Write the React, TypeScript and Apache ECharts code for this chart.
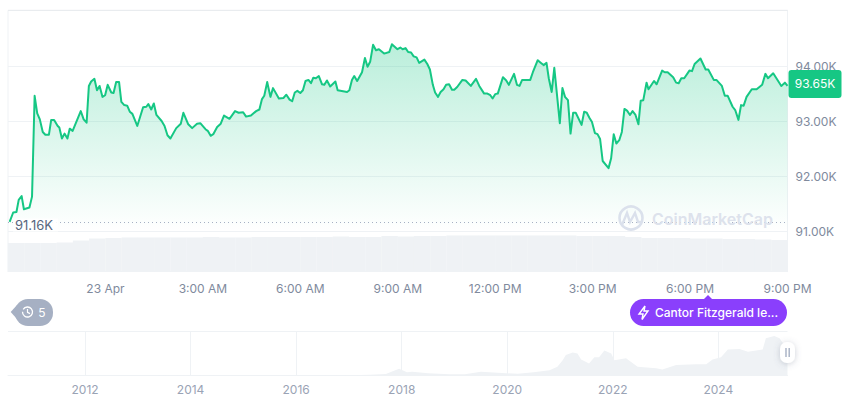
import React, { useEffect, useRef } from "react";
import * as echarts from "echarts";

const FONT = "Inter, 'Noto Sans', sans-serif";
const UP = "#16c784";

const priceHours = [-2.95,-2.84,-2.74,-2.67,-2.58,-2.51,-2.34,-2.26,-2.18,-2.10,-2.02,-1.93,-1.85,-1.74,-1.67,-1.58,-1.47,-1.42,-1.34,-1.26,-1.17,-1.10,-1.01,-.76,-.67,-.58,-.51,-.44,-.34,-.26,-.18,-.09,-.01,.07,.18,.25,.33,.42,.49,.58,.67,.75,.83,.98,1.16,1.26,1.32,1.41,1.49,1.57,1.73,1.82,1.91,2.00,2.18,2.32,2.40,2.55,2.67,2.82,2.92,3.08,3.15,3.24,3.32,3.44,3.55,3.65,3.82,3.99,4.10,4.24,4.33,4.48,4.64,4.74,4.82,4.89,4.98,5.08,5.16,5.34,5.48,5.57,5.67,5.75,5.83,5.91,6.00,6.08,6.16,6.25,6.33,6.40,6.48,6.57,6.67,6.74,6.82,6.92,7.08,7.15,7.44,7.51,7.59,7.66,7.75,7.90,7.99,8.07,8.15,8.24,8.33,8.42,8.58,8.74,8.82,8.99,9.08,9.15,9.24,9.32,9.41,9.49,9.58,9.66,9.82,9.91,9.99,10.08,10.15,10.24,10.32,10.41,10.49,10.58,10.67,10.74,10.83,10.99,11.09,11.25,11.41,11.51,11.66,11.76,11.85,11.92,12.00,12.08,12.24,12.34,12.42,12.58,12.67,12.75,12.83,13.08,13.16,13.31,13.41,13.49,13.58,13.65,13.74,13.82,13.99,14.07,14.15,14.24,14.32,14.40,14.48,14.66,14.74,14.82,14.90,14.98,15.07,15.15,15.23,15.31,15.49,15.57,15.65,15.73,15.82,15.90,15.98,16.06,16.15,16.23,16.32,16.41,16.48,16.56,16.66,16.72,16.89,16.97,17.14,17.22,17.31,17.48,17.57,17.65,17.73,17.82,17.98,18.06,18.14,18.32,18.48,18.56,18.73,18.81,18.98,19.07,19.16,19.31,19.39,19.49,19.57,19.65,19.74,19.90,20.05,20.22,20.32,20.40,20.56,20.81,20.92,21.00];
const prices = [91.17,91.34,91.35,91.57,91.64,91.40,91.43,91.63,93.47,93.15,93.04,92.81,92.76,92.76,93.03,93.03,92.92,92.89,92.69,92.78,92.69,92.87,92.83,93.19,93.04,92.98,93.65,93.73,93.78,93.57,93.65,93.45,93.48,93.67,93.53,93.52,93.72,93.72,93.36,93.30,93.29,93.18,93.14,92.92,93.26,93.27,93.32,93.22,93.33,93.12,93.01,92.92,92.75,92.69,92.88,92.96,93.16,92.95,92.88,92.96,92.97,92.86,92.83,92.74,92.77,92.90,92.96,93.11,93.05,93.19,93.16,93.17,93.09,93.11,93.19,93.22,93.41,93.47,93.72,93.45,93.61,93.42,93.43,93.49,93.40,93.37,93.53,93.56,93.52,93.57,93.74,93.76,93.70,93.80,93.79,93.83,93.68,93.67,93.75,93.64,93.73,93.57,93.54,93.57,93.76,93.83,93.74,93.90,94.16,94.00,94.09,94.40,94.30,94.32,94.24,94.27,94.41,94.32,94.35,94.32,94.34,94.27,94.26,94.19,94.17,94.07,94.13,94.05,93.95,93.67,93.53,93.45,93.54,93.59,93.67,93.68,93.58,93.58,93.63,93.76,93.75,93.65,93.78,93.65,93.51,93.51,93.48,93.42,93.50,93.51,93.81,93.75,93.67,93.87,93.67,93.65,93.76,93.76,93.90,94.12,94.07,94.03,94.07,93.79,93.54,93.98,92.97,93.61,93.45,93.39,92.78,93.16,93.16,92.94,93.18,93.16,93.07,92.99,92.79,92.77,92.68,92.28,92.15,92.33,92.77,92.60,92.66,92.81,93.23,93.20,93.12,93.19,93.12,92.95,93.38,93.39,93.71,93.59,93.74,93.68,93.93,93.90,93.90,93.81,93.71,93.70,93.79,93.79,93.93,93.92,94.05,94.15,93.95,93.95,93.76,93.76,93.65,93.47,93.47,93.27,93.21,93.03,93.30,93.29,93.45,93.59,93.59,93.67,93.87,93.79,93.88,93.65,93.71,93.65];

const volumeHours = [-2.75,-2.25,-1.75,-1.25,-.75,-.25,.25,.75,1.25,1.75,2.25,2.75,3.25,3.75,4.25,4.75,5.25,5.75,6.25,6.75,7.25,7.75,8.25,8.75,9.25,9.75,10.25,10.75,11.25,11.75,12.25,12.75,13.25,13.75,14.25,14.75,15.25,15.75,16.25,16.75,17.25,17.75,18.25,18.75,19.25,19.75,20.25,20.75];
const volumes = [33,33,33,33.5,35.8,38.1,38.7,39.3,39.3,39.3,39.3,39.3,39.8,39.3,39.3,39.8,39.8,39.8,39.8,39.8,40.4,39.8,39.8,41,40.4,41,41,41.6,41.6,41.6,41.6,41.6,41.6,41.6,41.6,41,41,41,39.8,38.7,38.7,38.7,38.1,38.1,37.5,37.5,37,36.4];

const axisHours = [0,3,6,9,12,15,18,21];
const axisHourLabels = ["23 Apr","3:00 AM","6:00 AM","9:00 AM","12:00 PM","3:00 PM","6:00 PM","9:00 PM"];
const priceTicks = [91,92,93,94];
const priceFrameTop = 95.03;
const priceFrameBottom = 90.26;
const openPrice = 91.16;
const lastPrice = 93.65;

const historyYears = [2010.54,2012,2013,2013.3,2013.9,2014.5,2015,2016,2016.5,2017,2017.4,2017.7,2017.95,2018.1,2018.2,2018.5,2018.9,2019.2,2019.5,2019.9,2020.2,2020.5,2020.8,2020.95,2021.05,2021.11,2021.24,2021.33,2021.4,2021.55,2021.65,2021.74,2021.84,2021.97,2022.03,2022.25,2022.47,2022.82,2022.94,2023.2,2023.58,2023.77,2023.89,2024.05,2024.18,2024.4,2024.56,2024.84,2024.9,2025.06,2025.16,2025.25,2025.31];
const historyPrices = [0,0.005,0.013,0.14,1,0.6,0.3,0.4,0.65,1,2.5,4.5,19,9,11,6.5,4,4,11,7.3,5,9.5,15,24,42,56,63,60,44,33,50,50,68,60,42,47,24,20,17,29,31,31,44,50,71,72,65,71,101,107,101,83,90];
const historyTicks = [2012,2014,2016,2018,2020,2022,2024];

const newsLabel = "Cantor Fitzgerald le...";
const historyCount = "5";
const brand = "CoinMarketCap";

const GRID_LINE = "#eff2f5";
const TICK = "#808a9d";
const TAG_PATH = "path://M3 0H50Q53 0 53 3V25Q53 28 50 28H3Q0 28 0 25V3Q0 0 3 0Z";

export default function App() {
  const ref = useRef<HTMLDivElement>(null);
  useEffect(() => {
    const chart = echarts.init(ref.current!, undefined, { renderer: "svg" });
    const fmtHour = (v: number) => {
      const i = axisHours.indexOf(v);
      return i >= 0 ? axisHourLabels[i] : "";
    };
    chart.setOption({
      animation: false,
      backgroundColor: "#ffffff",
      textStyle: { fontFamily: FONT },
      grid: [
        { left: 8, top: 10.3, width: 779.5, height: 261.4 },
        { left: 8, top: 331.3, width: 779.5, height: 44.4 },
      ],
      xAxis: [
        {
          type: "value", gridIndex: 0, min: -3, max: 21, interval: 3,
          axisLine: { show: true, onZero: false, lineStyle: { color: GRID_LINE } },
          axisTick: { show: false }, splitLine: { show: false },
          axisLabel: { color: TICK, fontSize: 12, fontFamily: FONT, margin: 11, formatter: fmtHour, hideOverlap: false, showMinLabel: false, showMaxLabel: true },
        },
        {
          type: "value", gridIndex: 1, min: 2010.54, max: 2025.31,
          axisLine: { show: true, onZero: false, lineStyle: { color: GRID_LINE } },
          axisTick: { show: false, customValues: historyTicks },
          splitLine: { show: true, lineStyle: { color: GRID_LINE, width: 1 } },
          axisLabel: { color: "#9aa3b5", fontSize: 12, fontFamily: FONT, margin: 8, customValues: historyTicks, formatter: (v: number) => String(v) },
        },
      ],
      yAxis: [
        {
          type: "value", gridIndex: 0, position: "right", min: priceFrameBottom, max: priceFrameTop,
          axisLine: { show: true, onZero: false, lineStyle: { color: GRID_LINE } },
          axisTick: { show: false, customValues: [...priceTicks, priceFrameTop] },
          splitLine: { show: true, lineStyle: { color: GRID_LINE, width: 1 } },
          axisLabel: { color: TICK, fontSize: 12, fontFamily: FONT, margin: 8, customValues: priceTicks, formatter: (v: number) => v.toFixed(2) + "K" },
        },
        {
          type: "value", gridIndex: 1, min: 0, max: 120,
          axisLine: { show: false, onZero: false }, axisLabel: { show: false }, axisTick: { show: false, customValues: [120] },
          splitLine: { show: true, lineStyle: { color: GRID_LINE, width: 1 } },
        },
        {
          type: "value", gridIndex: 0, min: 0, max: 300,
          axisLine: { show: false, onZero: false }, axisLabel: { show: false }, axisTick: { show: false }, splitLine: { show: false },
        },
      ],
      series: [
        {
          type: "bar", xAxisIndex: 0, yAxisIndex: 2, barWidth: 16.4, z: 1, silent: true,
          itemStyle: { color: "#eff2f5" },
          data: volumeHours.map((h, i) => [h, volumes[i]]),
        },
        {
          type: "line", xAxisIndex: 0, yAxisIndex: 0, showSymbol: false, symbol: "none", z: 3,
          lineStyle: { color: UP, width: 2, join: "round" },
          areaStyle: {
            origin: 91,
            color: new echarts.graphic.LinearGradient(0, 0, 0, 1, [
              { offset: 0, color: "rgba(22,199,132,0.42)" },
              { offset: 1, color: "rgba(22,199,132,0)" },
            ]),
          },
          data: priceHours.map((h, i) => [h, prices[i]]),
          markLine: {
            silent: true, symbol: "none", animation: false,
            lineStyle: { color: "#a6b0c3", type: [1, 3], width: 1 },
            label: {
              show: true, position: "insideStartBottom", formatter: openPrice.toFixed(2) + "K",
              color: "#58667e", fontSize: 13, fontFamily: FONT,
              backgroundColor: "rgba(255,255,255,0.9)", padding: [0, 5, 0, 2], offset: [0, -9],
            },
            data: [{ yAxis: openPrice }],
          },
          markPoint: {
            silent: true, animation: false,
            symbol: TAG_PATH, symbolSize: [53, 28], symbolOffset: [27.5, -2],
            itemStyle: { color: UP },
            label: { show: true, position: "inside", formatter: lastPrice.toFixed(2) + "K", color: "#ffffff", fontSize: 12, fontFamily: FONT },
            data: [{ coord: [21, lastPrice] }],
          },
        },
        {
          type: "line", xAxisIndex: 1, yAxisIndex: 1, showSymbol: false, symbol: "none", z: 2,
          lineStyle: { width: 0 }, areaStyle: { color: "#eff2f5", opacity: 1 },
          data: historyYears.map((y, i) => [y, historyPrices[i]]),
        },
      ],
      graphic: [
        { type: "line", z: 5, shape: { x1: 8, y1: 10.3, x2: 8, y2: 271.7 }, style: { stroke: GRID_LINE, lineWidth: 1 } },
        { type: "line", z: 5, shape: { x1: 8, y1: 10.3, x2: 787.5, y2: 10.3 }, style: { stroke: "#e8eaee", lineWidth: 1 } },
        // watermark
        { type: "circle", z: 6, shape: { cx: 631, cy: 218, r: 11.5 }, style: { fill: "none", stroke: "#dbe1ec", lineWidth: 2.6 } },
        { type: "polyline", z: 6, shape: { points: [[622, 225], [627, 213], [630, 222], [635, 213], [638, 222], [642, 222]] }, style: { fill: "none", stroke: "#dbe1ec", lineWidth: 2.4 } },
        { type: "text", z: 6, x: 652, y: 219, style: { text: brand, fill: "#dde2ec", font: `600 16px ${FONT}`, textVerticalAlign: "middle" } },
        // history pill
        { type: "polygon", z: 6, shape: { points: [[10.7, 312], [17, 305], [17, 319]] }, style: { fill: "#a6b0c3" } },
        { type: "rect", z: 6, shape: { x: 15, y: 299, width: 38, height: 27, r: 13 }, style: { fill: "#a6b0c3" } },
        { type: "arc", z: 7, shape: { cx: 27.5, cy: 312, r: 5, startAngle: -2.6, endAngle: 3.2, clockwise: true }, style: { fill: "none", stroke: "#ffffff", lineWidth: 1.3 } },
        { type: "polyline", z: 7, shape: { points: [[27.5, 309], [27.5, 312.3], [30, 313.6]] }, style: { fill: "none", stroke: "#ffffff", lineWidth: 1.2 } },
        { type: "text", z: 7, x: 42, y: 312, style: { text: historyCount, fill: "#ffffff", font: `12px ${FONT}`, textAlign: "center", textVerticalAlign: "middle" } },
        // news pill
        { type: "polygon", z: 6, shape: { points: [[708, 295], [703.5, 299.5], [712.5, 299.5]] }, style: { fill: "#8a3ffc" } },
        { type: "rect", z: 6, shape: { x: 630, y: 299, width: 157, height: 27, r: 13.5 }, style: { fill: "#8a3ffc" } },
        { type: "polygon", z: 7, shape: { points: [[645, 306], [639, 314], [643, 314], [642, 319.5], [648, 311], [644, 311]] }, style: { fill: "none", stroke: "#ffffff", lineWidth: 1.4 } },
        { type: "text", z: 7, x: 655, y: 312.5, style: { text: newsLabel, fill: "#ffffff", font: `500 12px ${FONT}`, textVerticalAlign: "middle" } },
        // navigator handle
        { type: "rect", z: 8, shape: { x: 780, y: 342, width: 15, height: 21, r: 7 }, style: { fill: "#ffffff", shadowBlur: 6, shadowColor: "rgba(88,102,126,0.3)", shadowOffsetY: 1 } },
        { type: "rect", z: 9, shape: { x: 785.3, y: 348, width: 1.4, height: 9 }, style: { fill: "#a6b0c3" } },
        { type: "rect", z: 9, shape: { x: 788.5, y: 348, width: 1.4, height: 9 }, style: { fill: "#a6b0c3" } },
      ],
    });
    return () => chart.dispose();
  }, []);
  return <div ref={ref} style={{ position: "absolute", left: 0, top: 0, width: 860, height: 401 }} />;
}
